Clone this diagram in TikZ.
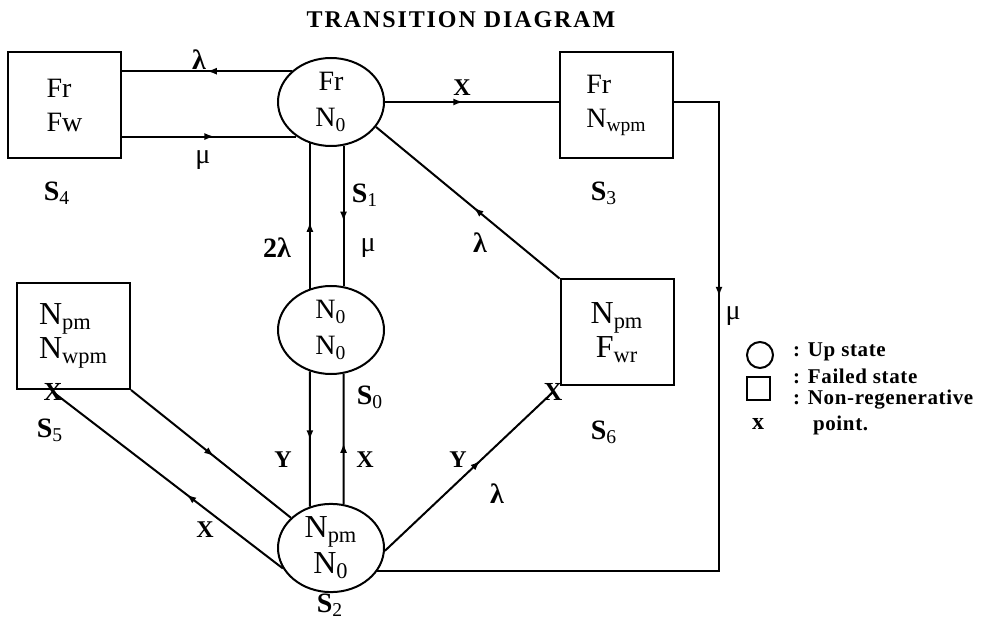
\documentclass[tikz,border=0pt]{standalone}
\usepackage{fontspec}
\setmainfont{Liberation Serif}
\usetikzlibrary{shapes.geometric, decorations.markings, arrows.meta}
\newcommand{\sname}[1]{\textbf{S}\textsubscript{#1}}
\tikzset{
  up state/.style={ellipse, draw, line width=1pt, minimum width=53pt, minimum height=44pt,
    inner sep=0pt, align=center, font=\fontsize{14}{18}\selectfont},
  failed state/.style={rectangle, draw, line width=1pt, minimum width=56.5pt, minimum height=53pt,
    inner sep=0pt, align=left, font=\fontsize{14}{17}\selectfont},
  flow/.style={line width=1pt, postaction={decorate},
    decoration={markings, mark=at position #1 with {\arrow{Latex[length=5pt,width=3.5pt]}}}},
  flow/.default=0.5,
  rate/.style={font=\fontsize{14}{14}\selectfont},
  tag/.style={font=\bfseries\fontsize{12}{12}\selectfont},
  cross/.style={inner sep=0pt, font=\bfseries\fontsize{13}{13}\selectfont},
  legend/.style={anchor=west, font=\bfseries\fontsize{10.5}{10.5}\selectfont\addfontfeatures{LetterSpace=3}},
}

\begin{document}
\begin{tikzpicture}[x=0.5pt, y=-0.5pt]
  \useasboundingbox (0,0) rectangle (983,619);
  \node[font=\bfseries\fontsize{12}{12}\selectfont\addfontfeatures{LetterSpace=8}] (title) at (461,20) {TRANSITION DIAGRAM};
  % states
  \node[up state]     (s1) at (331,102) {Fr\\N\textsubscript{0}};
  \node[up state]     (s0) at (331,330) {N\textsubscript{0}\\N\textsubscript{0}};
  \node[up state, font=\fontsize{16}{18}\selectfont] (s2) at (331,548) {N\textsubscript{pm}\\N\textsubscript{0}};
  \node[failed state] (s4) at (64.5,105.5) {Fr\\Fw};
  \node[failed state] (s3) at (616.5,105.5) {Fr\\N\textsubscript{wpm}};
  \node[failed state, font=\fontsize{16}{17}\selectfont] (s5) at (73.5,336) {N\textsubscript{pm}\\N\textsubscript{wpm}};
  \node[failed state, align=center, font=\fontsize{16}{17}\selectfont] (s6) at (617,332.5) {N\textsubscript{pm}\\F\textsubscript{wr}};
  \node[cross] (x5) at (53,392) {X};
  \node[cross] (x6) at (553,392) {X};
  % state labels
  \node[rate] (l4) at (57,193)  {\sname{4}};
  \node[rate] (l1) at (365,195) {\sname{1}};
  \node[rate] (l3) at (604,193) {\sname{3}};
  \node[rate] (l0) at (370,397) {\sname{0}};
  \node[rate] (l5) at (50,430)  {\sname{5}};
  \node[rate] (l6) at (604,432) {\sname{6}};
  \node[rate] (l2) at (330,605) {\sname{2}};
  % transitions
  \draw[flow=0.5]  (s1.142) -- (s4.east |- s1.142);
  \draw[flow=0.53] (s4.east |- s1.225) -- (s1.225);
  \draw[flow=0.46] (s0.117) -- (s1.-117);
  \draw[flow=0.54] (s1.-74) -- (s0.74);
  \draw[flow=0.51] (s0.-117) -- (s2.117);
  \draw[flow=0.47] (s2.74) -- (s0.-74);
  \draw[flow=0.45] (s1.east) -- (s1.east -| s3.west);
  \coordinate (turn) at (719,0);
  \draw[flow=0.28] (s3.east |- s1.east) -| (turn |- s2.-27) -- (s2.-27);
  \draw[flow=0.47] (s6.north west) -- (s1.-29);
  \draw[flow=0.52] (s5.south east) -- (s2.143);
  \draw[flow=0.42] (s2.-157) -- (x5.center);
  \draw[flow=0.57] (s2.-3) -- (x6.center);
  % rates
  \node[rate] at (199,60)  {\textbf{λ}};
  \node[rate] at (203,160) {μ};
  \node[rate] at (277,248) {\textbf{2λ}};
  \node[rate] at (368,248) {μ};
  \node[tag]  at (462,88)  {X};
  \node[rate] at (480,243) {\textbf{λ}};
  \node[rate] at (733,316) {μ};
  \node[tag]  at (283,460) {Y};
  \node[tag]  at (365,460) {X};
  \node[tag]  at (458,460) {Y};
  \node[rate] at (497,494) {\textbf{λ}};
  \node[tag]  at (205,530) {X};
  % legend
  \node[circle, draw, line width=1pt, minimum size=13pt, inner sep=0pt] (key up) at (760,355) {};
  \node[rectangle, draw, line width=1pt, minimum size=11.5pt, inner sep=0pt] (key failed) at (758.5,388.5) {};
  \node[tag] (key cross) at (758,424) {x};
  \node[legend] at (786,352) {: Up state};
  \node[legend] at (786,376) {: Failed state};
  \node[legend] at (786,400) {: Non-regenerative};
  \node[legend] at (806,425) {point.};
\end{tikzpicture}
\end{document}
